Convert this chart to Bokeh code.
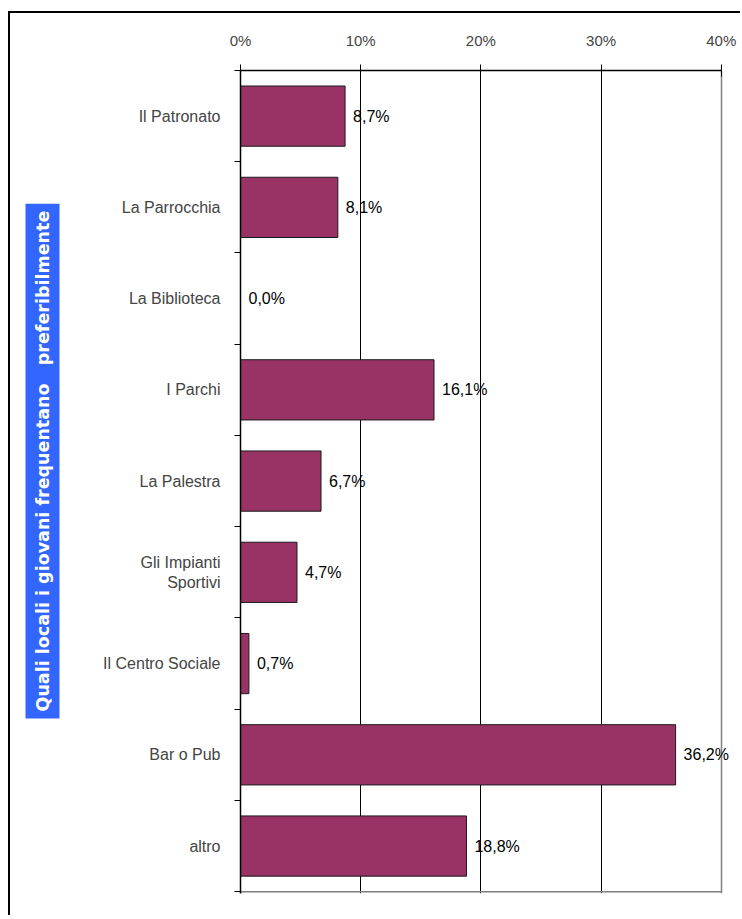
from bokeh.plotting import figure
from bokeh.models import Range1d, FixedTicker, PrintfTickFormatter, ColumnDataSource, LabelSet, Grid
from bokeh.embed import file_html
from bokeh.resources import INLINE
from bokeh.core.properties import value

categories = ["Il Patronato", "La Parrocchia", "La Biblioteca", "I Parchi", "La Palestra",
              "Gli Impianti\nSportivi", "Il Centro Sociale", "Bar o Pub", "altro"]
values = [8.7, 8.1, 0.0, 16.1, 6.7, 4.7, 0.7, 36.2, 18.8]
x_ticks = [0, 10, 20, 30, 40]
title_text = "Quali locali i giovani frequentano\u00a0\u00a0\u00a0preferibilmente"

n = len(categories)
centers = [i + 0.5 for i in range(n)]
labels = [f"{v:.1f}".replace(".", ",") + "%" for v in values]
src = ColumnDataSource(dict(y=centers, v=values, label=labels))
x_max = x_ticks[-1]

p = figure(width=732, height=904, output_backend="svg", toolbar_location=None,
           x_range=Range1d(0, x_max * 1.04), y_range=Range1d(n + 0.02, 0),
           x_axis_location="above",
           min_border_left=230, min_border_right=2, min_border_top=57, min_border_bottom=24,
           title=title_text, title_location="left")

p.hbar(y="y", right="v", left=0, height=0.66, source=src,
       fill_color="#993366", line_color="#1a1a1a", line_width=1)
p.add_layout(LabelSet(x="v", y="y", text="label", source=src, x_offset=8,
                      text_baseline="middle", text_align="left",
                      text_font=value("Liberation Sans"),
                      text_font_size="16px", text_color="black"))

# grey plot-area border on the bottom (from 0% to 40%)
p.segment(x0=[x_ticks[0]], x1=[x_max], y0=[n], y1=[n], line_color="#808080", line_width=1.5)

# top value axis
xa = p.xaxis[0]
xa.ticker = FixedTicker(ticks=x_ticks)
xa.bounds = (0, x_max)
xa.formatter = PrintfTickFormatter(format="%d%%")
xa.major_tick_in = 6
xa.major_tick_out = 6
xa.minor_tick_line_color = None
xa.axis_line_color = "black"
xa.axis_line_width = 1.5
xa.major_label_standoff = 16
xa.major_label_text_font = "Liberation Sans"
xa.major_label_text_font_size = "15px"

# left category axis
ya = p.yaxis[0]
ya.ticker = FixedTicker(ticks=centers, minor_ticks=list(range(n + 1)))
ya.major_label_overrides = {c: lab for c, lab in zip(centers, categories)}
ya.major_tick_line_color = None
ya.major_tick_out = 0
ya.major_tick_in = 0
ya.minor_tick_in = 0
ya.minor_tick_out = 6
ya.minor_tick_line_color = "black"
ya.axis_line_color = "black"
ya.axis_line_width = 1.5
ya.major_label_standoff = 14
ya.major_label_text_font = "Liberation Sans"
ya.major_label_text_font_size = "16px"
# blank spacer label: widens the axis panel so the title box sits further left
ya.axis_label = "\u00a0"
ya.axis_label_text_font_size = "10px"
ya.axis_label_standoff = 15

p.xgrid.ticker = FixedTicker(ticks=x_ticks[1:-1])
p.xgrid.grid_line_color = "black"
p.xgrid.grid_line_width = 1
p.ygrid.grid_line_color = None
p.outline_line_color = None

# grey plot-area border on the right (40%)
p.add_layout(Grid(dimension=0, ticker=FixedTicker(ticks=[x_max]),
                  grid_line_color="#808080", grid_line_width=1.5))

p.title.text_color = "white"
p.title.text_font = "DejaVu Sans"
p.title.text_font_style = "bold"
p.title.text_font_size = "17.5px"
p.title.background_fill_color = "#3366FF"
p.title.border_line_color = "#3366FF"
p.title.border_line_width = 14
p.title.border_line_join = "miter"
p.title.align = "left"
p.title.standoff = 38
p.title.offset = 182

p.margin = (11, 0, 0, 8)
p.styles = {"border-left": "2px solid black", "border-top": "2px solid black"}

open("out.html", "w").write(file_html(p, INLINE))
